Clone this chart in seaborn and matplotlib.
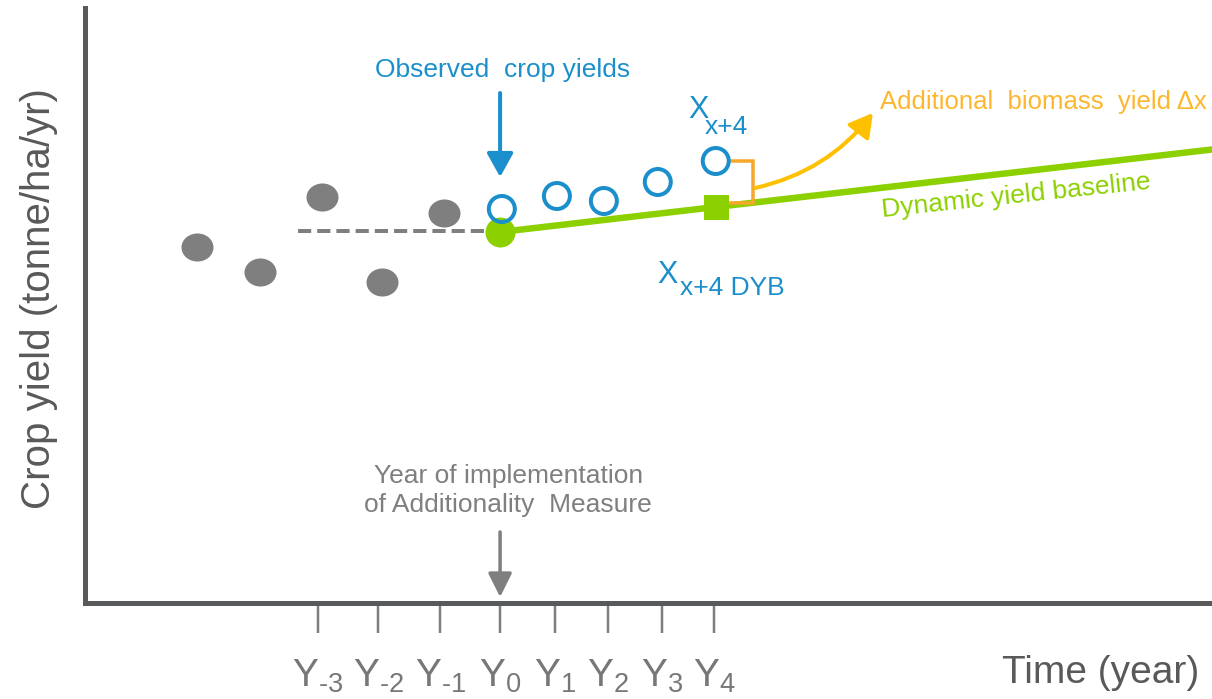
import matplotlib
matplotlib.use("Agg")
import matplotlib.pyplot as plt
from matplotlib.path import Path
from matplotlib.transforms import Affine2D
import seaborn as sns

# Positions: x = years relative to implementation (uneven spacing
# in the original drawing), y = crop yield in arbitrary schematic units.
pre_years = [-5.22, -4.14, -3.07, -2.03, -0.97]
pre_yield = [7.12, 6.62, 8.12, 6.42, 7.80]

obs_years = [0.03, 0.98, 1.79, 2.72, 3.72]
obs_yield = [7.88, 8.14, 8.04, 8.42, 8.84]

start_year = [0.0]
start_yield = [7.42]

dyb_year = [3.72]
dyb_yield = [7.92]

base_years = [0.0, 12.28]
base_yield = [7.42, 9.07]

avg_years = [-3.48, 0.0]
avg_yield = [7.44, 7.44]

tick_years = [-3.14, -2.10, -1.03, 0.0, 0.95, 1.86, 2.79, 3.69]
tick_labels = [r"$\mathrm{Y}_{\text{-3}}$", r"$\mathrm{Y}_{\text{-2}}$", r"$\mathrm{Y}_{\text{-1}}$",
               r"$\mathrm{Y}_{0}$", r"$\mathrm{Y}_{1}$", r"$\mathrm{Y}_{2}$",
               r"$\mathrm{Y}_{3}$", r"$\mathrm{Y}_{4}$"]

BLUE = "#1A8FCB"
GREEN = "#8CD000"
GREY = "#7F7F7F"
DARK = "#58595B"
ORANGE = "#FFC000"
BRACKET = "#F7A72B"
PX = 0.72  # points per pixel at dpi 100

sns.set_style("white")
plt.rcParams["font.family"] = ["Liberation Sans", "DejaVu Sans"]
plt.rcParams["mathtext.fontset"] = "custom"
plt.rcParams["mathtext.rm"] = "Liberation Sans"
plt.rcParams["mathtext.it"] = "Liberation Sans:italic"
plt.rcParams["mathtext.bf"] = "Liberation Sans:bold"

fig = plt.figure(figsize=(12.12, 6.99), dpi=100)
ax = fig.add_axes([85 / 1212, 96 / 699, 1127 / 1212, 595 / 699])
ax.set_xlim(-7.16, 12.28)
ax.set_ylim(0, 11.9)

# lines
sns.lineplot(x=avg_years, y=avg_yield, color=GREY, linewidth=4 * PX,
             linestyle=(0, (3.3, 1.5)), ax=ax, zorder=2)
sns.lineplot(x=base_years, y=base_yield, color=GREEN, linewidth=6.5 * PX, ax=ax, zorder=2)

# points
ellipse = Path.unit_circle().transformed(Affine2D().scale(1.14, 1.0))
sns.scatterplot(x=pre_years, y=pre_yield, marker=ellipse, s=(32 * PX) ** 2,
                color=GREY, linewidth=0, ax=ax, zorder=3)
sns.scatterplot(x=start_year, y=start_yield, s=(30 * PX) ** 2, color=GREEN,
                linewidth=0, ax=ax, zorder=4)
sns.scatterplot(x=dyb_year, y=dyb_yield, marker="s", s=(25 * PX) ** 2, color=GREEN,
                linewidth=0, ax=ax, zorder=4)
sns.scatterplot(x=obs_years, y=obs_yield, s=(26 * PX) ** 2, color=BLUE, facecolor="none",
                edgecolor=BLUE, linewidth=4 * PX, ax=ax, zorder=5)

# bracket between observed Y4 and the baseline value
bx0 = obs_years[-1] + 0.25
bx1 = obs_years[-1] + 0.64
ax.plot([bx0, bx1, bx1, bx0], [obs_yield[-1], obs_yield[-1], 8.0, 8.0],
        color=BRACKET, linewidth=3.5 * PX, solid_joinstyle="miter", zorder=3)

# arrows
ax.annotate("", xy=(6.43, 9.80), xytext=(4.40, 8.30),
            arrowprops=dict(arrowstyle="-|>,head_length=0.7,head_width=0.4", mutation_scale=20,
                            connectionstyle="arc3,rad=0.18", color=ORANGE, lw=4 * PX,
                            shrinkA=0, shrinkB=0))
ax.annotate("", xy=(0.0, 8.52), xytext=(0.0, 10.2),
            arrowprops=dict(arrowstyle="-|>,head_length=0.72,head_width=0.4", mutation_scale=20,
                            color=BLUE, lw=4 * PX, shrinkA=0, shrinkB=0))
ax.annotate("", xy=(0.0, 0.12), xytext=(0.0, 1.42),
            arrowprops=dict(arrowstyle="-|>,head_length=0.72,head_width=0.36", mutation_scale=20,
                            color=GREY, lw=3.5 * PX, shrinkA=0, shrinkB=0), annotation_clip=False)

# annotations
ax.text(0.05, 10.52, "Observed  crop yields", color=BLUE, fontsize=19, ha="center", va="baseline")
ax.text(0.14, 2.25, "Year of implementation\nof Additionality  Measure", color=GREY, fontsize=19,
        ha="center", va="center", linespacing=1.25)
ax.text(3.24, 9.70, "X", color=BLUE, fontsize=22, ha="left", va="baseline")
ax.text(3.53, 9.38, "x+4", color=BLUE, fontsize=19, ha="left", va="baseline")
ax.text(2.72, 6.40, "X", color=BLUE, fontsize=22, ha="left", va="baseline")
ax.text(3.10, 6.16, "x+4 DYB", color=BLUE, fontsize=19, ha="left", va="baseline")
ax.text(6.55, 9.88, "Additional  biomass  yield Δx", color="#FDB72E", fontsize=18.5,
        ha="left", va="baseline")
ax.text(6.60, 7.72, "Dynamic yield baseline", color=GREEN, fontsize=19, ha="left",
        va="baseline", rotation=6.0, rotation_mode="anchor")

# axes styling
sns.despine(ax=ax)
for side in ["left", "bottom"]:
    ax.spines[side].set_color(DARK)
    ax.spines[side].set_linewidth(5 * PX)
    ax.spines[side].set_capstyle("projecting")
ax.set_yticks([])
ax.set_xticks(tick_years)
ax.set_xticklabels(tick_labels)
ax.tick_params(axis="x", direction="out", length=30 * PX, width=2.5 * PX, color=GREY,
               labelsize=28, labelcolor="#777777", pad=18, bottom=True)
ax.set_ylabel("Crop yield (tonne/ha/yr)", fontsize=29, color="#595959")
ax.yaxis.set_label_coords(-0.024, 0.511)
fig.text(1101 / 1212, 1 - 683 / 699, "Time (year)", fontsize=28, color="#595959",
         ha="center", va="baseline")

fig.savefig("out.png", dpi=100, facecolor="white")
